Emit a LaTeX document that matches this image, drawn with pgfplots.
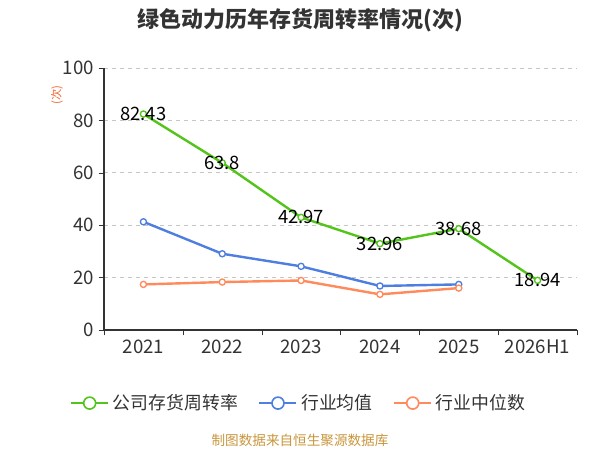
\documentclass[border=0pt]{standalone}
\usepackage{fontspec}
\setmainfont{Noto Sans CJK SC}
\usepackage{pgfplots}
\usepackage{pgfplotstable}
\pgfplotsset{compat=1.18}
\definecolor{cgreen}{RGB}{82,196,26}
\definecolor{cblue}{RGB}{78,126,224}
\definecolor{corange}{RGB}{255,138,91}
\definecolor{ctext}{RGB}{51,51,51}
\definecolor{cfoot}{RGB}{200,150,60}
\definecolor{cunit}{RGB}{240,100,50}
\pgfplotstableread{
x y lab
0 82.43 82.43
1 63.8 63.8
2 42.97 42.97
3 32.96 32.96
4 38.68 38.68
5 18.94 18.94
}\company
\pgfplotstableread{
x y
0 41.3
1 29.1
2 24.3
3 16.8
4 17.4
}\avg
\pgfplotstableread{
x y
0 17.4
1 18.3
2 18.9
3 13.6
4 16.0
}\med
\begin{document}
\begin{tikzpicture}
\path[use as bounding box] (0pt,0pt) rectangle (450pt,337.5pt);
\node[font=\fontsize{16.5}{19}\selectfont\bfseries, text=ctext] at (225pt,322.5pt) {绿色动力历年存货周转率情况(次)};
\node[font=\fontsize{8.5}{9}\selectfont, text=cunit, rotate=90] at (42.75pt,266.25pt) {(次)};
\node[font=\fontsize{10.2}{12}\selectfont, text=cfoot] at (225pt,7.5pt) {制图数据来自恒生聚源数据库};
\begin{axis}[
  at={(78pt,90pt)}, anchor=south west, scale only axis,
  width=354.75pt, height=196.5pt,
  xmin=-0.5, xmax=5.5, ymin=0, ymax=100,
  ytick={0,20,...,100},
  xtick={0,...,5},
  xticklabels={2021,2022,2023,2024,2025,2026H1},
  minor xtick={-0.5,0.5,...,5.5},
  major x tick style={draw=none},
  minor x tick style={draw=ctext},
  ytick style={draw=ctext},
  tick align=outside,
  major tick length=4pt, minor tick length=4pt,
  axis x line*=bottom, axis y line*=left,
  axis line style={draw=ctext, line width=0.8pt},
  ymajorgrids, grid style={dashed, draw=gray!45, line width=0.7pt},
  ticklabel style={font=\fontsize{14}{16}\selectfont, text=ctext},
  /pgf/number format/assume math mode=true,
  clip=false,
  legend columns=3,
  legend style={at={(0.414,-0.279)}, anchor=center, draw=none, fill=none,
    font=\fontsize{13.4}{15}\selectfont, text=ctext,
    nodes={inner xsep=3pt},
    /tikz/every even column/.append style={column sep=12.5pt}},
  legend image code/.code={
    \draw[#1, mark=none, line width=1.2pt] (0pt,0pt) -- (27.75pt,0pt);
    \draw[#1, fill=white, line width=1.2pt] (13.9pt,0pt) circle (4.5pt);
  },
]
\addplot[cgreen, line width=1.8pt, mark=*, mark size=2.3pt,
  mark options={fill=white, line width=1pt},
  nodes near coords, point meta=explicit symbolic,
  every node near coord/.append style={anchor=center, text=black, font=\fontsize{13.8}{16}\selectfont}]
  table[x=x, y=y, meta=lab] {\company};
\addlegendentry{公司存货周转率}
\addplot[cblue, line width=1.8pt, mark=*, mark size=2.3pt,
  mark options={fill=white, line width=1pt}] table[x=x, y=y] {\avg};
\addlegendentry{行业均值}
\addplot[corange, line width=1.8pt, mark=*, mark size=2.3pt,
  mark options={fill=white, line width=1pt}] table[x=x, y=y] {\med};
\addlegendentry{行业中位数}
\end{axis}
\end{tikzpicture}
\end{document}
